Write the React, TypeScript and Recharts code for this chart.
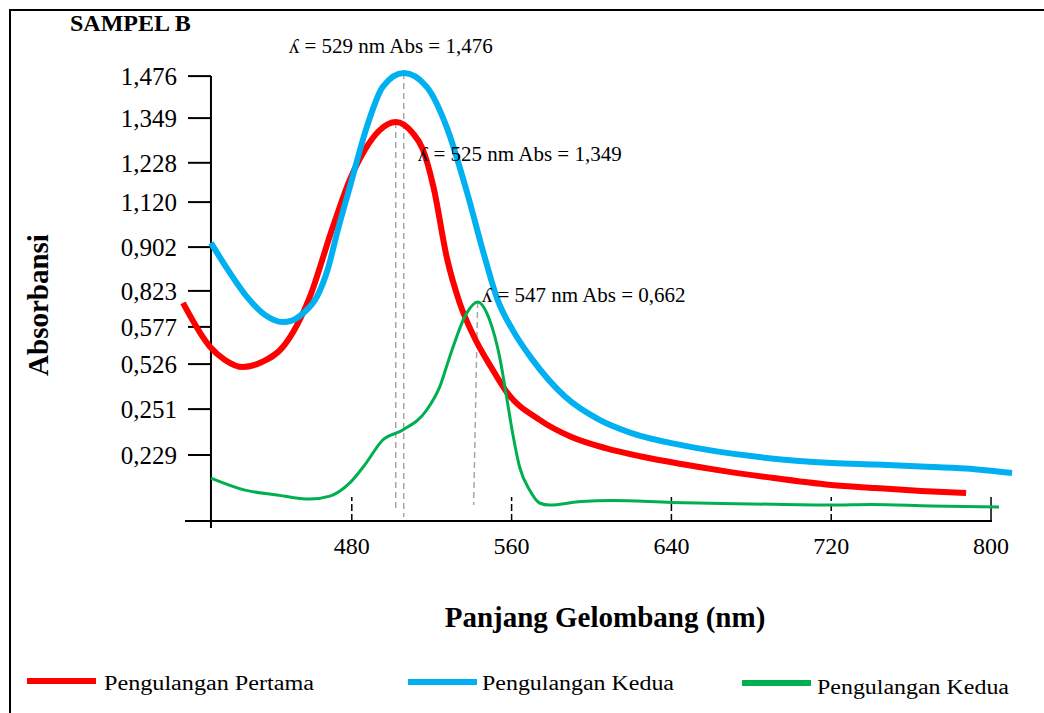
import { LineChart, Line, XAxis, YAxis, ReferenceLine, ReferenceDot } from 'recharts';

const serif = '"Liberation Serif", "Times New Roman", serif';

// wavelength (nm) / absorbance pairs
const pertamaNm = [395.5, 409, 416.5, 425.5, 435, 445.5, 459, 470, 479, 486.5, 494, 502, 510.5, 515.5, 521, 527.5, 534, 541.5, 550, 557.5, 574, 590, 607, 625, 645, 665, 687, 720, 742, 765, 787.5];
const pertamaAbs = [0.727, 0.581, 0.537, 0.513, 0.53, 0.58, 0.747, 0.97, 1.137, 1.237, 1.303, 1.33, 1.293, 1.24, 1.11, 0.88, 0.727, 0.61, 0.51, 0.43, 0.337, 0.28, 0.243, 0.215, 0.19, 0.168, 0.147, 0.12, 0.11, 0.1, 0.093];

const keduaNm = [409.5, 418, 427.5, 436.5, 445.5, 450, 456, 462.5, 468, 473, 479, 487.5, 495.5, 506, 517.5, 527.5, 537.5, 546.5, 553, 560.5, 570.5, 587, 604, 620, 645, 684, 720.5, 742.5, 765, 787.5, 810.5];
const keduaAbs = [0.927, 0.837, 0.747, 0.687, 0.663, 0.668, 0.695, 0.747, 0.84, 0.97, 1.113, 1.313, 1.447, 1.493, 1.447, 1.313, 1.1, 0.88, 0.737, 0.637, 0.537, 0.413, 0.337, 0.293, 0.253, 0.213, 0.193, 0.188, 0.182, 0.175, 0.16];

const ketigaNm = [409.5, 426.5, 442.5, 459, 469, 479, 486.5, 495.5, 505.5, 517.5, 524, 529, 537.5, 543, 549, 554, 557.5, 560.5, 564, 569, 574, 579, 595, 610, 640, 680, 720, 740, 770, 804];
const ketigaAbs = [0.143, 0.103, 0.087, 0.073, 0.083, 0.127, 0.187, 0.27, 0.303, 0.37, 0.447, 0.547, 0.693, 0.73, 0.67, 0.547, 0.413, 0.293, 0.18, 0.103, 0.06, 0.053, 0.065, 0.068, 0.062, 0.057, 0.053, 0.055, 0.05, 0.047];

const xTicks = [480, 560, 640, 720, 800];
const yTickAbs = [1.483, 1.343, 1.194, 1.063, 0.913, 0.767, 0.647, 0.523, 0.373, 0.22];
const yTickLabels = ['1,476', '1,349', '1,228', '1,120', '0,902', '0,823', '0,577', '0,526', '0,251', '0,229'];

const peakNm = [506, 502, 543];
const peakAbs = [1.493, 1.33, 0.73];
const peakBaseNm = [506, 502, 541];
const peakBaseAbs = [0.013, 0.03, 0.053];
const peakTexts = ['ʎ = 529 nm Abs = 1,476', 'ʎ = 525 nm Abs = 1,349', 'ʎ = 547 nm Abs = 0,662'];
const peakOffsets = [[-115, -20], [22, 39], [4, 0]];

const seriesNames = ['Pengulangan Pertama', 'Pengulangan Kedua', 'Pengulangan Kedua'];
const seriesColors = ['#FF0000', '#00B0F0', '#00B050'];

const toPoints = (nm: number[], abs: number[]) => nm.map((x, i) => ({ nm: x, abs: abs[i] }));
const series = [
  toPoints(pertamaNm, pertamaAbs),
  toPoints(keduaNm, keduaAbs),
  toPoints(ketigaNm, ketigaAbs),
];
const widths = [6, 6, 3];

const axisNm = 409.5;

const peakLabel = (text: string, dx: number, dy: number) => (props: any) => {
  const vb = props.viewBox || {};
  const cx = vb.x + (vb.width || 0) / 2;
  const cy = vb.y + (vb.height || 0) / 2;
  return (
    <text x={cx + dx} y={cy + dy} fontSize={21} fontFamily={serif} fill="#000">
      {text}
    </text>
  );
};

const legendPos = [
  { x1: 27, x2: 96, y: 681, tx: 104, ty: 690, w: 210 },
  { x1: 408, x2: 477, y: 682, tx: 482, ty: 690, w: 192 },
  { x1: 742, x2: 811, y: 683, tx: 817, ty: 694, w: 192 },
];

export default function App() {
  return (
    <div style={{ position: 'absolute', top: 0, left: 0, width: 1044, height: 713, background: '#fff', overflow: 'hidden' }}>
      <div style={{ position: 'absolute', left: 9, top: 9, width: 1100, height: 800, borderTop: '2px solid #000', borderLeft: '2px solid #000' }} />
      <LineChart width={1044} height={713} margin={{ top: 41, right: 29, bottom: 162, left: 182 }}>
        <XAxis
          dataKey="nm"
          type="number"
          domain={[395, 812]}
          ticks={xTicks}
          axisLine={false}
          tickLine={false}
          tickMargin={10}
          height={30}
          tick={{ fontSize: 24, fill: '#000', fontFamily: serif }}
        />
        <YAxis hide type="number" domain={[0, 1.6]} />

        {/* axis lines */}
        <ReferenceLine segment={[{ x: 396.5, y: 0 }, { x: 800.5, y: 0 }]} stroke="#000" strokeWidth={2} ifOverflow="visible" />
        <ReferenceLine segment={[{ x: axisNm, y: -0.023 }, { x: axisNm, y: yTickAbs[0] }]} stroke="#000" strokeWidth={2} ifOverflow="visible" />
        {yTickAbs.map((v, i) => (
          <ReferenceLine
            key={'yt' + i}
            segment={[{ x: 398, y: v }, { x: axisNm, y: v }]}
            stroke="#000"
            strokeWidth={2}
            ifOverflow="visible"
            label={{ value: yTickLabels[i], position: 'left', offset: 11, fontSize: 25, fill: '#000', fontFamily: serif }}
          />
        ))}
        {xTicks.map((t, i) => (
          <ReferenceLine
            key={'xt' + i}
            segment={[{ x: t, y: 0 }, { x: t, y: 0.08 }]}
            stroke="#000"
            strokeWidth={1.5}
            strokeDasharray={i === xTicks.length - 1 ? undefined : '7 3'}
            ifOverflow="visible"
          />
        ))}

        {/* peak drop lines */}
        {peakNm.map((x, i) => (
          <ReferenceLine
            key={'pk' + i}
            segment={[{ x, y: peakAbs[i] }, { x: peakBaseNm[i], y: peakBaseAbs[i] }]}
            stroke="#A6A6A6"
            strokeWidth={1.5}
            strokeDasharray="6 4"
            ifOverflow="visible"
          />
        ))}

        {series.map((data, i) => (
          <Line
            key={'s' + i}
            data={data}
            dataKey="abs"
            type="monotone"
            stroke={seriesColors[i]}
            strokeWidth={widths[i]}
            dot={false}
            activeDot={false}
            isAnimationActive={false}
            name={seriesNames[i]}
          />
        ))}

        {peakNm.map((x, i) => (
          <ReferenceDot
            key={'pl' + i}
            x={x}
            y={peakAbs[i]}
            r={1}
            fill="none"
            stroke="none"
            ifOverflow="visible"
            label={peakLabel(peakTexts[i], peakOffsets[i][0], peakOffsets[i][1])}
          />
        ))}
      </LineChart>

      <svg width={1044} height={713} style={{ position: 'absolute', top: 0, left: 0, pointerEvents: 'none' }}>
        <text x={70} y={31} fontSize={24} fontWeight="bold" fontFamily={serif} fill="#000">SAMPEL B</text>
        <text x={48} y={305} fontSize={29} fontWeight="bold" fontFamily={serif} fill="#000" textAnchor="middle" transform="rotate(-90, 48, 305)">
          Absorbansi
        </text>
        <text x={605} y={627} fontSize={29} fontWeight="bold" fontFamily={serif} fill="#000" textAnchor="middle">
          Panjang Gelombang (nm)
        </text>
        {seriesNames.map((name, i) => {
          const p = legendPos[i];
          return (
            <g key={'lg' + i}>
              <line x1={p.x1} x2={p.x2} y1={p.y} y2={p.y} stroke={seriesColors[i]} strokeWidth={6} />
              <text x={p.tx} y={p.ty} fontSize={20} fontFamily={serif} fill="#000" textLength={p.w} lengthAdjust="spacingAndGlyphs">
                {name}
              </text>
            </g>
          );
        })}
      </svg>
    </div>
  );
}
